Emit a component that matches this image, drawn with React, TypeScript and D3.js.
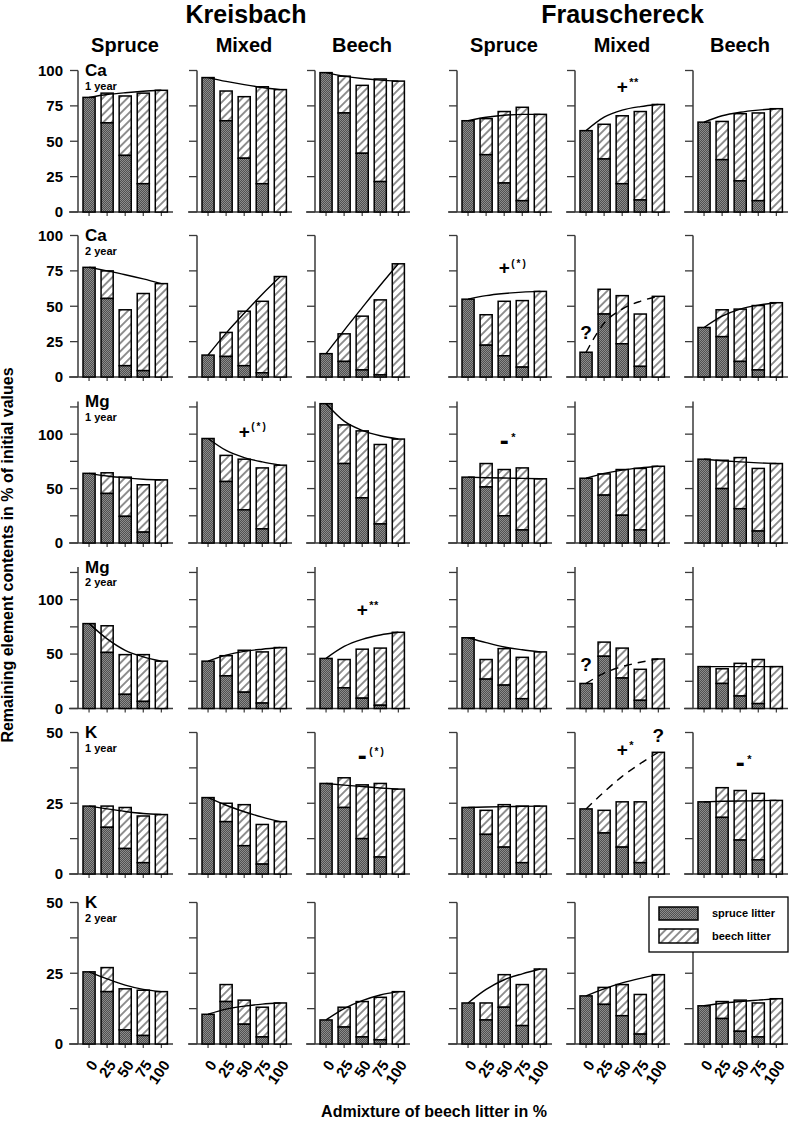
import React from 'react';
import * as d3 from 'd3';

// ---------- categories / labels ----------
const sites = ['Kreisbach', 'Frauschereck'];
const stands = ['Spruce', 'Mixed', 'Beech'];
const admixture = ['0', '25', '50', '75', '100'];
const elements = ['Ca', 'Ca', 'Mg', 'Mg', 'K', 'K'];
const periods = ['1 year', '2 year', '1 year', '2 year', '1 year', '2 year'];
const yMax = [100, 100, 130, 130, 50, 50];
const yTickStep = [25, 25, 25, 25, 12.5, 12.5];
const yTickLabels = [
  [0, 25, 50, 75, 100],
  [0, 25, 50, 75, 100],
  [0, 50, 100],
  [0, 50, 100],
  [0, 25, 50],
  [0, 25, 50],
];

// ---------- data: per panel (Kreisbach Spruce, Mixed, Beech, Frauschereck Spruce, Mixed, Beech) ----------
const caYear1Total = [
  [81, 84, 82, 84, 86], [95, 85.5, 81.5, 88.5, 86.5], [98.5, 96, 89.5, 94, 92.5],
  [64.5, 66, 71, 74, 69], [57.5, 62, 68, 71, 76], [63.5, 64, 69.5, 70, 73],
];
const caYear1Spruce = [
  [81, 63, 40, 20], [95, 64.5, 38, 20], [98.5, 70, 41.5, 21.5],
  [64.5, 40.5, 20.5, 8], [57.5, 37.5, 20, 8.5], [63.5, 37, 22, 8],
];
const caYear1Curve = [
  [81, 83, 84.3, 85.3, 86], [95, 92.3, 90, 88, 86.5], [98.5, 96, 94.3, 93.2, 92.5],
  [64.5, 67, 68.4, 69, 69], [57.5, 67, 72, 74.5, 76], [63.5, 68, 70.5, 72, 73],
];

const caYear2Total = [
  [77.5, 75, 47.5, 59, 66], [15.5, 31.5, 46.5, 53.5, 71], [16.5, 30.5, 43, 54.5, 80],
  [55, 44, 53.5, 54, 60.5], [17.5, 62, 57.5, 44.5, 57], [35, 47.5, 48, 50.5, 52.5],
];
const caYear2Spruce = [
  [77.5, 55.5, 8, 4.5], [15.5, 14.5, 8, 3], [16.5, 11, 5, 1.5],
  [55, 22.5, 15, 7], [17.5, 44.5, 23.5, 7.5], [35, 28.5, 11, 5],
];
const caYear2Curve = [
  [77.5, 75, 72.3, 69.3, 66], [15.5, 31, 45, 58.5, 71], [16.5, 33, 49, 64.8, 80],
  [55, 57.5, 59, 60, 60.5], [17.5, 38, 48, 53.5, 57], [35, 43, 48, 50.8, 52.5],
];

const mgYear1Total = [
  [64, 64.5, 60.5, 53.5, 58], [96, 80.5, 77, 69, 71.5], [128, 108.5, 103, 90.5, 95.5],
  [60.5, 73, 67.5, 69, 59], [59.5, 63.5, 67.5, 68.5, 70.5], [77, 76, 78.5, 68.5, 73],
];
const mgYear1Spruce = [
  [64, 45.5, 24.5, 10], [96, 56.5, 30.5, 13], [128, 73, 41.5, 17.5],
  [60.5, 51.5, 25, 12], [59.5, 44, 25.5, 12], [77, 50, 31.5, 11],
];
const mgYear1Curve = [
  [64, 61.5, 59.8, 58.6, 58], [96, 85, 78.5, 74.5, 71.5], [128, 112, 103.5, 98.5, 95.5],
  [60.5, 60, 59.7, 59.4, 59], [59.5, 64, 67, 69, 70.5], [77, 75.6, 74.5, 73.6, 73],
];

const mgYear2Total = [
  [78, 76, 49.5, 49.5, 43.5], [43.5, 48.5, 53.5, 52, 56], [46, 45, 54.5, 55.5, 70],
  [65, 45, 55, 47, 52], [23, 61, 55.5, 36, 45.5], [38.5, 36.5, 41.5, 45, 38.5],
];
const mgYear2Spruce = [
  [78, 51.5, 13, 6.5], [43.5, 30, 15, 5], [46, 19, 9.5, 3],
  [65, 27, 21.5, 9], [23, 48, 28, 7.5], [38.5, 23, 11.5, 4.5],
];
const mgYear2Curve = [
  [78, 64, 53.5, 47.5, 43.5], [43.5, 49, 52.5, 54.5, 56], [46, 57, 63.5, 67.5, 70],
  [65, 60.5, 56.5, 54, 52], [23, 32.5, 38.5, 42.5, 45.5], [38.5, 38.5, 38.5, 38.5, 38.5],
];

const kYear1Total = [
  [24, 24, 23.5, 20.5, 21], [27, 25, 24.5, 17.5, 18.5], [32, 34, 31.5, 32, 30],
  [23.5, 22.5, 24.5, 24, 24], [23, 22.5, 25.5, 25.5, 43], [25.5, 30.5, 29.5, 28.5, 26],
];
const kYear1Spruce = [
  [24, 16.5, 9, 4], [27, 18.5, 10, 3.5], [32, 23.5, 12.5, 6],
  [23.5, 14, 9.5, 4], [23, 14.5, 9.5, 4], [25.5, 20, 12, 5],
];
const kYear1Curve = [
  [24, 23, 22.1, 21.4, 21], [27, 24.3, 22, 20.1, 18.5], [32, 31.4, 30.9, 30.4, 30],
  [23.5, 23.7, 23.8, 23.9, 24], [23, 29, 34.5, 39, 43], [25.5, 25.7, 25.8, 25.9, 26],
];

const kYear2Total = [
  [25.5, 27, 19.5, 19, 18.5], [10.5, 21, 15.5, 13, 14.5], [8.5, 13, 15, 16.5, 18.5],
  [14.5, 14.5, 24.5, 21, 26.5], [17, 20, 21, 17.5, 24.5], [13.5, 15, 15.5, 14.5, 16],
];
const kYear2Spruce = [
  [25.5, 18.5, 5, 3], [10.5, 15, 7, 2.5], [8.5, 6, 2.5, 1.5],
  [14.5, 8.5, 13, 6.5], [17, 14, 10, 3.5], [13.5, 9, 4.5, 2.5],
];
const kYear2Curve = [
  [25.5, 23, 20.8, 19.3, 18.5], [10.5, 12.3, 13.4, 14.1, 14.5], [8.5, 12.5, 15.3, 17.3, 18.5],
  [14.5, 19.3, 22.7, 24.8, 26.5], [17, 19.5, 21.6, 23.2, 24.5], [13.5, 14.4, 15, 15.5, 16],
];

// panels whose fitted curve is dashed: [row, col]
const dashedCurves = [[1, 4], [3, 4], [4, 4]];

// significance marks (position in data coordinates: admixture %, value)
const annotations = [
  { row: 0, col: 4, sign: '+', mark: '**', admix: 50, value: 89 },
  { row: 1, col: 3, sign: '+', mark: '(*)', admix: 50, value: 77.6 },
  { row: 2, col: 1, sign: '+', mark: '(*)', admix: 50, value: 103 },
  { row: 2, col: 3, sign: '-', mark: '*', admix: 50, value: 93.7 },
  { row: 3, col: 2, sign: '+', mark: '**', admix: 50, value: 91 },
  { row: 4, col: 2, sign: '-', mark: '(*)', admix: 50, value: 41.8 },
  { row: 4, col: 4, sign: '+', mark: '*', admix: 50, value: 44.2 },
  { row: 4, col: 5, sign: '-', mark: '*', admix: 50, value: 39.3 },
];
const questionMarks = [
  { row: 1, col: 4, admix: '0', value: 31.8 },
  { row: 3, col: 4, admix: '0', value: 40.9 },
  { row: 4, col: 4, admix: '100', value: 49.1 },
];

const rows = [
  { total: caYear1Total, spruce: caYear1Spruce, curve: caYear1Curve },
  { total: caYear2Total, spruce: caYear2Spruce, curve: caYear2Curve },
  { total: mgYear1Total, spruce: mgYear1Spruce, curve: mgYear1Curve },
  { total: mgYear2Total, spruce: mgYear2Spruce, curve: mgYear2Curve },
  { total: kYear1Total, spruce: kYear1Spruce, curve: kYear1Curve },
  { total: kYear2Total, spruce: kYear2Spruce, curve: kYear2Curve },
];

// ---------- layout ----------
const W = 795;
const H = 1122;
const colAxisX = [78, 197, 315, 457, 575, 693];
const rowBaseY = [212, 377, 543, 708.5, 874, 1044];
const panelH = 141.5;
const FONT = '"Liberation Sans", Arial, Helvetica, sans-serif';
const AXIS = '#3a3a3a';

function Panel({ r, c }: { r: number; c: number }) {
  const ax = colAxisX[c];
  const base = rowBaseY[r];
  const y = d3.scaleLinear().domain([0, yMax[r]]).range([base, base - panelH]);
  const x = d3
    .scaleBand<string>()
    .domain(admixture)
    .range([ax + 5, ax + 89.4])
    .paddingInner(0.33)
    .paddingOuter(0);
  const bw = x.bandwidth();
  const cx = (k: string) => (x(k) as number) + bw / 2;
  const totals = rows[r].total[c];
  const spruce = rows[r].spruce[c];
  const curve = rows[r].curve[c];
  const ticks = d3.range(0, yMax[r] + 0.001, yTickStep[r]);
  const dashed = dashedCurves.some(([a, b]) => a === r && b === c);
  const line = d3
    .line<number>()
    .x((_, i) => cx(admixture[i]))
    .y((d) => y(d))
    .curve(d3.curveMonotoneX);
  const anns = annotations.filter((a) => a.row === r && a.col === c);
  const qms = questionMarks.filter((a) => a.row === r && a.col === c);
  const isBottom = r === rowBaseY.length - 1;

  return (
    <g>
      <line x1={ax} x2={ax} y1={base} y2={y(yMax[r])} stroke={AXIS} strokeWidth={1.5} />
      <line x1={ax - 9} x2={ax + 95} y1={base} y2={base} stroke={AXIS} strokeWidth={1.5} />
      {ticks.map((t) => (
        <line key={'yt' + t} x1={ax - 8} x2={ax} y1={y(t)} y2={y(t)} stroke={AXIS} strokeWidth={1.3} />
      ))}
      {c === 0 &&
        yTickLabels[r].map((t) => (
          <text
            key={'yl' + t}
            x={ax - 15}
            y={y(t)}
            dy="0.36em"
            textAnchor="end"
            fontSize={15}
            fontWeight="bold"
            fontFamily={FONT}
          >
            {t}
          </text>
        ))}
      {admixture.map((k) => (
        <line key={'xt' + k} x1={cx(k)} x2={cx(k)} y1={base} y2={base + 4} stroke={AXIS} strokeWidth={1.2} />
      ))}
      {isBottom &&
        admixture.map((k) => (
          <text
            key={'xl' + k}
            transform={`translate(${cx(k) + 5},${base + 18}) rotate(-55)`}
            textAnchor="end"
            dy="0.35em"
            fontSize={15}
            fontWeight="bold"
            fontFamily={FONT}
          >
            {k}
          </text>
        ))}

      {admixture.map((k, i) => {
        const tot = totals[i];
        const sp = i < spruce.length ? spruce[i] : 0;
        return (
          <g key={'b' + k}>
            {tot > sp && (
              <rect
                x={x(k)}
                width={bw}
                y={y(tot)}
                height={y(sp) - y(tot)}
                fill="url(#beech)"
                stroke="#000"
                strokeWidth={1.5}
              />
            )}
            {sp > 0 && (
              <rect
                x={x(k)}
                width={bw}
                y={y(sp)}
                height={y(0) - y(sp)}
                fill="url(#spruce)"
                stroke="#000"
                strokeWidth={1.5}
              />
            )}
          </g>
        );
      })}

      <path
        d={line(curve) || ''}
        fill="none"
        stroke="#000"
        strokeWidth={1.4}
        strokeDasharray={dashed ? '8,6' : undefined}
      />

      {c === 0 && (
        <g fontFamily={FONT} fontWeight="bold">
          <text x={ax + 7} y={y(yMax[r]) + 5.5} fontSize={17}>
            {elements[r]}
          </text>
          <text x={ax + 7} y={y(yMax[r]) + 19} fontSize={11}>
            {periods[r]}
          </text>
        </g>
      )}

      {anns.map((a, i) => {
        const px = cx(String(a.admix));
        const py = y(a.value);
        return (
          <g key={'a' + i} fontFamily={FONT} fontWeight="bold">
            <text x={px} y={py} dy="0.35em" textAnchor="middle" fontSize={a.sign === '+' ? 19 : 27}>
              {a.sign}
            </text>
            <text
              x={px + 7}
              y={py - 4}
              dy="0.35em"
              fontSize={a.mark === '(*)' ? 10 : 11}
              letterSpacing={a.mark === '(*)' ? 2 : 0.5}
            >
              {a.mark}
            </text>
          </g>
        );
      })}
      {qms.map((q, i) => (
        <text
          key={'q' + i}
          x={cx(q.admix)}
          y={y(q.value)}
          dy="0.36em"
          textAnchor="middle"
          fontSize={19}
          fontWeight="bold"
          fontFamily={FONT}
        >
          ?
        </text>
      ))}
    </g>
  );
}

export default function App() {
  const panels: { r: number; c: number }[] = [];
  rowBaseY.forEach((_, r) => colAxisX.forEach((__, c) => panels.push({ r, c })));
  const siteCenters = [
    (colAxisX[0] + colAxisX[2] + 95) / 2 + 2,
    (colAxisX[3] + colAxisX[5] + 95) / 2,
  ];
  return (
    <svg
      width={W}
      height={H}
      viewBox={`0 0 ${W} ${H}`}
      style={{ position: 'absolute', left: 0, top: 0, background: '#fff' }}
    >
      <defs>
        <pattern id="spruce" width={2} height={2} patternUnits="userSpaceOnUse">
          <rect width={2} height={2} fill="#505050" />
          <rect width={1} height={1} fill="#8c8c8c" />
          <rect x={1} y={1} width={1} height={1} fill="#8c8c8c" />
        </pattern>
        <pattern
          id="beech"
          width={5.8}
          height={5.8}
          patternUnits="userSpaceOnUse"
          patternTransform="rotate(45)"
        >
          <rect width={5.8} height={5.8} fill="#fff" />
          <line x1={2.9} y1={0} x2={2.9} y2={5.8} stroke="#222" strokeWidth={1} />
        </pattern>
      </defs>
      <rect width={W} height={H} fill="#fff" />

      {sites.map((s, i) => (
        <text
          key={s}
          x={siteCenters[i]}
          y={23}
          textAnchor="middle"
          fontSize={25}
          fontWeight="bold"
          fontFamily={FONT}
        >
          {s}
        </text>
      ))}
      {colAxisX.map((ax, c) => (
        <text
          key={'h' + c}
          x={ax + 47}
          y={52}
          textAnchor="middle"
          fontSize={20}
          fontWeight="bold"
          fontFamily={FONT}
        >
          {stands[c % 3]}
        </text>
      ))}

      {panels.map((p) => (
        <Panel key={`${p.r}-${p.c}`} r={p.r} c={p.c} />
      ))}

      <text
        transform={`translate(13,555) rotate(-90)`}
        textAnchor="middle"
        fontSize={16}
        fontWeight="bold"
        fontFamily={FONT}
      >
        Remaining element contents in % of initial values
      </text>
      <text x={434} y={1117} textAnchor="middle" fontSize={16} fontWeight="bold" fontFamily={FONT}>
        Admixture of beech litter in %
      </text>

      <g fontFamily={FONT} fontWeight="bold" fontSize={11}>
        <rect x={649} y={897} width={139} height={55} fill="#fff" stroke="#000" strokeWidth={1.3} />
        <rect x={659} y={907} width={39} height={13} fill="url(#spruce)" stroke="#000" strokeWidth={1.5} />
        <rect x={659} y={929} width={39} height={14} fill="url(#beech)" stroke="#000" strokeWidth={1.5} />
        <text x={712} y={917}>spruce litter</text>
        <text x={712} y={940}>beech litter</text>
      </g>
    </svg>
  );
}
